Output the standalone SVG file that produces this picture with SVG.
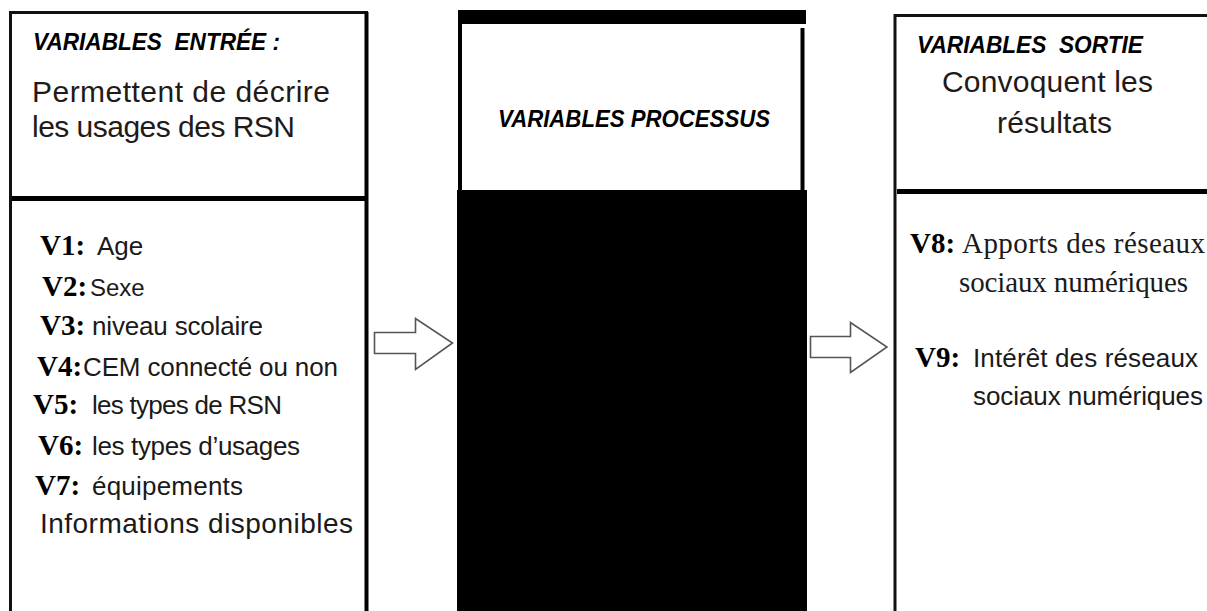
<svg xmlns="http://www.w3.org/2000/svg" width="1207" height="611" viewBox="0 0 1207 611">
  <style>
    .frame { fill: #ffffff; stroke: #111111; stroke-width: 3; }
    .rule { stroke: #000000; stroke-width: 5; }
    .title { font-family: "Liberation Sans", Arial, sans-serif; font-weight: bold; font-style: italic; font-size: 24px; fill: #000000; }
    .lead { font-family: "Liberation Sans", Arial, sans-serif; font-size: 30px; fill: #231a17; }
    .item { font-family: "Liberation Sans", Arial, sans-serif; font-size: 26px; fill: #1a1a1a; }
    .vlabel { font-family: "Liberation Serif", "Times New Roman", serif; font-weight: bold; font-size: 29px; fill: #000000; }
    .serif { font-family: "Liberation Serif", "Times New Roman", serif; font-size: 29px; fill: #1a1a1a; }
    .arrow { fill: #ffffff; stroke: #555555; stroke-width: 1.6; stroke-linejoin: miter; }
  </style>

  <rect width="1207" height="611" fill="#ffffff"/>

  <!-- Input variables -->
  <g id="node-input">
    <rect class="frame" x="10.5" y="12.5" width="356" height="610"/>
    <line x1="366.5" y1="12" x2="366.5" y2="611" stroke="#000000" stroke-width="4"/>
    <line class="rule" x1="12" y1="198.5" x2="365" y2="198.5"/>
    <text class="title" x="33" y="50" xml:space="preserve" textLength="247" lengthAdjust="spacingAndGlyphs">VARIABLES  ENTRÉE :</text>
    <text class="lead" x="32" y="102" textLength="298">Permettent de décrire</text>
    <text class="lead" x="32" y="137" textLength="263">les usages des RSN</text>

    <text class="vlabel" x="40" y="255">V1:</text>
    <text class="item" x="97" y="255">Age</text>
    <text class="vlabel" x="42" y="296">V2:</text>
    <text class="item" x="90" y="296" style="font-size:24px">Sexe</text>
    <text class="vlabel" x="40" y="335">V3:</text>
    <text class="item" x="92" y="335" textLength="171">niveau scolaire</text>
    <text class="vlabel" x="37" y="376">V4:</text>
    <text class="item" x="83" y="376" textLength="255">CEM connecté ou non</text>
    <text class="vlabel" x="33" y="414">V5:</text>
    <text class="item" x="92" y="414" textLength="190">les types de RSN</text>
    <text class="vlabel" x="38" y="455">V6:</text>
    <text class="item" x="92" y="455" textLength="208">les types d’usages</text>
    <text class="vlabel" x="35" y="495">V7:</text>
    <text class="item" x="92" y="495" textLength="151">équipements</text>
    <text class="item" x="40" y="533" style="font-size:28px" textLength="313">Informations disponibles</text>
  </g>

  <!-- Process variables -->
  <g id="node-process">
    <rect x="458" y="10" width="348" height="14" fill="#000000"/>
    <line x1="460" y1="24" x2="460" y2="192" stroke="#000000" stroke-width="4"/>
    <line x1="802.5" y1="28" x2="802.5" y2="192" stroke="#000000" stroke-width="4"/>
    <rect x="457" y="190" width="350" height="421" fill="#000000"/>
    <text class="title" x="498" y="127" textLength="272" lengthAdjust="spacingAndGlyphs">VARIABLES PROCESSUS</text>
  </g>

  <!-- Output variables -->
  <g id="node-output">
    <rect class="frame" x="895" y="15.5" width="330" height="610"/>
    <line class="rule" x1="897" y1="191.5" x2="1207" y2="191.5"/>
    <text class="title" x="917" y="53" xml:space="preserve" textLength="226" lengthAdjust="spacingAndGlyphs">VARIABLES  SORTIE</text>
    <text class="lead" x="942" y="92" textLength="211">Convoquent les</text>
    <text class="lead" x="997" y="133" textLength="115">résultats</text>

    <text class="vlabel" x="910" y="253">V8:</text>
    <text class="serif" x="962" y="253" textLength="243">Apports des réseaux</text>
    <text class="serif" x="959" y="292" textLength="229">sociaux numériques</text>
    <text class="vlabel" x="915" y="367">V9:</text>
    <text class="item" x="973" y="367" textLength="225">Intérêt des réseaux</text>
    <text class="item" x="973" y="405" textLength="230">sociaux numériques</text>
  </g>

  <!-- Block arrows between the stages -->
  <g id="connectors">
    <path class="arrow" d="M374.5,332.5 H415.5 V318.5 L452.5,343 L415.5,369.5 V353.5 H374.5 Z"/>
    <path class="arrow" d="M810.5,336.5 H850.5 V322.5 L887,347 L850.5,372.5 V357.5 H810.5 Z"/>
  </g>
</svg>
